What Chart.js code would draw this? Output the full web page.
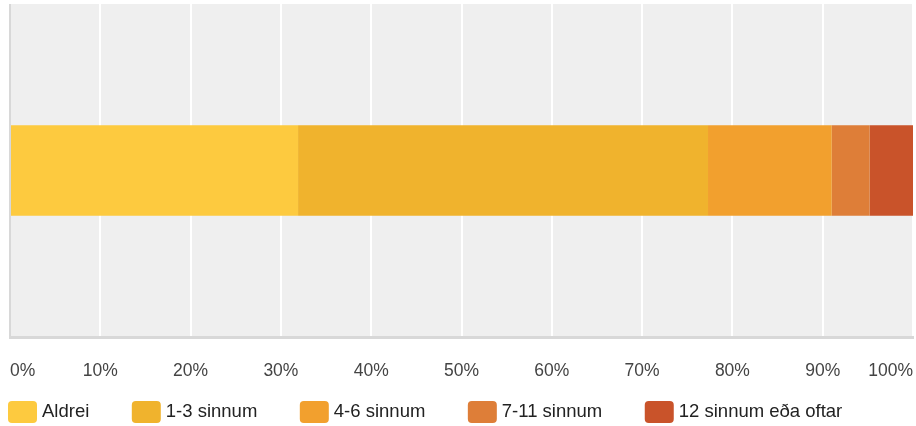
<!DOCTYPE html>
<html>
<head>
<meta charset="utf-8">
<script src="https://cdn.jsdelivr.net/npm/chart.js@4"></script>
<style>
  html, body { margin: 0; padding: 0; background: #fff; }
  #wrap { width: 916px; height: 426px; }
</style>
</head>
<body>
<div id="wrap"><canvas id="chart" width="916" height="426"></canvas></div>
<script>
// Data
const categories = [''];
const seriesNames = ['Aldrei', '1-3 sinnum', '4-6 sinnum', '7-11 sinnum', '12 sinnum eða oftar'];
const seriesValues = [31.9, 45.4, 13.7, 4.2, 4.8];
const seriesColors = ['#FDCA3F', '#F0B32D', '#F2A02E', '#DE7E38', '#C9532A'];
const tickValues = [0, 10, 20, 30, 40, 50, 60, 70, 80, 90, 100];

const fontFamily = '"Liberation Sans", Arial, sans-serif';

// plot background, left border and legend
const framePlugin = {
    id: 'frame',
    beforeDraw(chart) {
        const { ctx, chartArea } = chart;
        ctx.save();
        ctx.fillStyle = '#efefef';
        ctx.fillRect(chartArea.left, chartArea.top, chartArea.right - chartArea.left, chartArea.bottom - chartArea.top);
        ctx.restore();
    },
    afterDraw(chart) {
        const { ctx, chartArea } = chart;
        ctx.save();
        ctx.fillStyle = '#d8d8d8';
        ctx.fillRect(chartArea.left - 1, chartArea.top, 2, chartArea.bottom - chartArea.top);

        // legend
        ctx.font = '18.5px ' + fontFamily;
        ctx.textBaseline = 'middle';
        let x = 8;
        const y = 401;
        chart.data.datasets.forEach((ds) => {
            ctx.fillStyle = ds.backgroundColor;
            ctx.beginPath();
            ctx.roundRect(x, y, 29, 22, 4);
            ctx.fill();
            ctx.fillStyle = '#222';
            ctx.fillText(ds.label, x + 34, y + 11);
            x += 34 + ctx.measureText(ds.label).width + 42.5;
        });
        ctx.restore();
    }
};

new Chart(document.getElementById('chart'), {
    type: 'bar',
    data: {
        labels: categories,
        datasets: seriesNames.map((name, i) => ({
            label: name,
            data: [seriesValues[i]],
            backgroundColor: seriesColors[i],
            borderWidth: 0,
            barPercentage: 0.272,
            categoryPercentage: 1
        }))
    },
    options: {
        indexAxis: 'y',
        responsive: false,
        animation: false,
        layout: { padding: { left: 10, right: 3, top: 4, bottom: 20 } },
        scales: {
            x: {
                stacked: true,
                min: 0,
                max: 100,
                afterBuildTicks(axis) {
                    axis.ticks = tickValues.map(v => ({ value: v }));
                },
                afterFit(axis) {
                    axis.paddingLeft = 0;
                    axis.paddingRight = 0;
                },
                grid: { color: '#ffffff', lineWidth: 2, drawTicks: false },
                border: { display: true, color: '#d8d8d8', width: 3 },
                ticks: {
                    callback: v => v + '%',
                    align: 'inner',
                    padding: 24,
                    maxRotation: 0,
                    autoSkip: false,
                    color: '#444',
                    font: { family: fontFamily, size: 17.5 }
                }
            },
            y: {
                stacked: true,
                display: false
            }
        },
        plugins: {
            legend: { display: false },
            tooltip: { enabled: false }
        }
    },
    plugins: [framePlugin]
});
</script>
</body>
</html>
